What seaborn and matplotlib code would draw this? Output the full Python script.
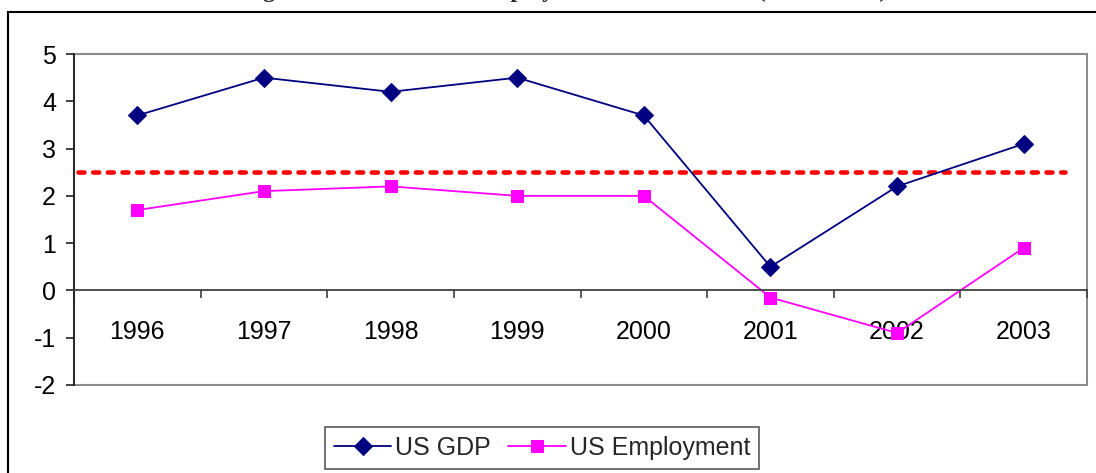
import numpy as np
import pandas as pd
import seaborn as sns
import matplotlib.pyplot as plt
from matplotlib.patches import Rectangle
from matplotlib.ticker import FixedLocator

years= ["1996","1997","1998","1999","2000","2001","2002","2003"]
gdp= [3.7,4.5,4.2,4.5,3.7,0.5,2.2,3.1]
employment= [1.7,2.1,2.2,2.0,2.0,-0.15,-0.9,0.9]
reference_level= 2.5
y_ticks= [-2,-1,0,1,2,3,4,5]
title_text= "Figure 1: US GDP and Employment Growth Rates (1996 - 2003)"


def build_frame():
    pos= np.arange(len(years))
    df= pd.DataFrame({
        "pos":    np.concatenate([pos,pos]),
        "value":  gdp + employment,
        "series": ["US GDP"]*len(years) + ["US Employment"]*len(years),
    })
    return df


def main():
    sns.set_theme(style="white")
    plt.rcParams["font.family"]= ["Liberation Sans","DejaVu Sans"]

    df= build_frame()
    fig= plt.figure(figsize=(10.96,4.73),dpi=100)
    ax= fig.add_axes([74/1096,1-385/473,(1087-74)/1096,(385-54)/473])

    sns.lineplot(data=df[df.series=="US GDP"],x="pos",y="value",ax=ax,
                 color="#000080",marker="D",markersize=9,linewidth=1.3,
                 markeredgecolor="#000080",label="US GDP")
    sns.lineplot(data=df[df.series=="US Employment"],x="pos",y="value",ax=ax,
                 color="#FF00FF",marker="s",markersize=9,linewidth=1.3,
                 markeredgecolor="#FF00FF",label="US Employment")

    ax.axhline(reference_level,xmin=0.004,xmax=0.978,color="#FF0000",
               linewidth=3.3,dashes=(1.3,1.9),dash_capstyle="round",zorder=1)

    ax.set_xlim(-0.5,len(years)-0.5)
    ax.set_ylim(min(y_ticks),max(y_ticks))
    ax.set_yticks(y_ticks)
    ax.set_yticklabels([str(v) for v in y_ticks])
    ax.set_xticks(np.arange(len(years)))
    ax.set_xticklabels(years)
    ax.xaxis.set_minor_locator(FixedLocator(np.arange(len(years)+1)-0.5))
    ax.set_xlabel("");ax.set_ylabel("")

    ax.spines["bottom"].set_position(("data",0))
    ax.spines["bottom"].set_color("#404040");ax.spines["bottom"].set_linewidth(1.3)
    ax.spines["left"].set_color("#202020");ax.spines["left"].set_linewidth(1.3)
    for s in ("top","right"):
        ax.spines[s].set_visible(False)
    ax.add_patch(Rectangle((0,0),1,1,transform=ax.transAxes,fill=False,
                           edgecolor="#8c8c8c",linewidth=1.5,clip_on=False,zorder=0))

    ax.tick_params(axis="y",which="major",direction="out",length=6,width=1.2,
                   color="#202020",labelsize=18,pad=7,left=True)
    ax.tick_params(axis="x",which="major",length=0,labelsize=18,pad=21,bottom=True)
    ax.tick_params(axis="x",which="minor",direction="out",length=6,width=1.2,
                   color="#404040",bottom=True)
    for lab in ax.get_yticklabels() + ax.get_xticklabels():
        lab.set_color("black")

    ax.get_legend().remove()
    handles,labels= ax.get_legend_handles_labels()
    leg= fig.legend(handles,labels,loc="center",bbox_to_anchor=(542/1096,1-448/473),
                    ncol=2,frameon=True,fancybox=False,fontsize=18,
                    handlelength=2.3,handletextpad=0.15,columnspacing=0.7,
                    borderpad=0.35,borderaxespad=0)
    leg.get_frame().set_edgecolor("#404040")
    leg.get_frame().set_linewidth(1.3)

    fig.patches.append(Rectangle((8/1096,-0.2),1.2,1.2-12/473,transform=fig.transFigure,
                                 fill=False,edgecolor="black",linewidth=1.5))

    # title sits above the frame and is cut off in the original too
    fig.text(565/1096,1+3/473,title_text,ha="center",va="baseline",
             fontsize=17,fontweight="bold",family=["Liberation Serif","DejaVu Serif"])

    fig.savefig("out.png",dpi=100)


if __name__== "__main__":
    main()
